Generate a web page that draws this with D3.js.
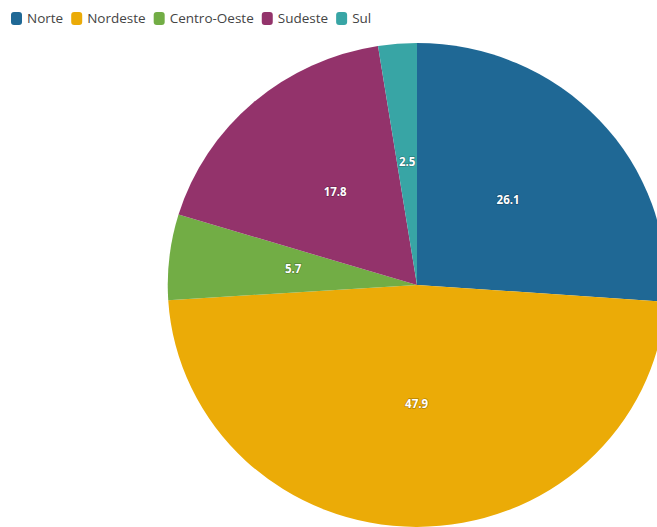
<!DOCTYPE html>
<html>
<head>
<meta charset="utf-8">
<script src="https://cdn.jsdelivr.net/npm/d3@7"></script>
<style>
  body { margin: 0; background: #fff; }
  svg { display: block; font-family: "Open Sans", sans-serif; }
</style>
</head>
<body>
<div id="chart"></div>
<script>
let regions = ["Norte", "Nordeste", "Centro-Oeste", "Sudeste", "Sul"];
let values = [26.1, 47.9, 5.7, 17.8, 2.5];
let colors = ["#1f6895", "#ebab07", "#72ad45", "#93336b", "#38a5a5"];

let width = 657, height = 527;
let cx = 417, cy = 285, radius = 242;
// the reference pie is a little wider than tall
let stretchX = 1.03;

let svg = d3.select("#chart").append("svg")
  .attr("width", width)
  .attr("height", height);

let color = d3.scaleOrdinal().domain(regions).range(colors);

let pie = d3.pie().sort(null).value(d => d.value);
let arc = d3.arc().innerRadius(0).outerRadius(radius);

let data = regions.map((r, i) => ({ name: r, value: values[i] }));

let g = svg.append("g").attr("transform", `translate(${cx},${cy})`);

g.append("g")
  .attr("transform", `scale(${stretchX},1)`)
  .selectAll("path")
  .data(pie(data))
  .enter()
  .append("path")
  .attr("d", arc)
  .attr("fill", d => color(d.data.name));

g.selectAll("text")
  .data(pie(data))
  .enter()
  .append("text")
  .attr("transform", d => {
    let c = arc.centroid(d);
    return `translate(${c[0] * stretchX},${c[1] - 2})`;
  })
  .attr("text-anchor", "middle")
  .attr("dy", "0.35em")
  .attr("fill", "#fff")
  .style("font-size", "11.5px")
  .style("font-weight", "700")
  .style("paint-order", "stroke")
  .attr("stroke", "rgba(0,0,0,0.25)")
  .attr("stroke-width", 1.5)
  .text(d => d.data.value);

// legend
let x = 11;
let legend = svg.append("g").attr("transform", "translate(0,18)");
regions.forEach((r, i) => {
  let item = legend.append("g").attr("transform", `translate(${x},0)`);
  item.append("rect")
    .attr("x", 0).attr("y", -6)
    .attr("width", 11).attr("height", 13)
    .attr("rx", 3).attr("ry", 3)
    .attr("fill", colors[i]);
  let t = item.append("text")
    .attr("x", 16).attr("dy", "0.35em")
    .attr("fill", "#444")
    .style("font-size", "13.5px")
    .text(r);
  x += 16 + t.node().getComputedTextLength() + 8;
});
</script>
</body>
</html>
